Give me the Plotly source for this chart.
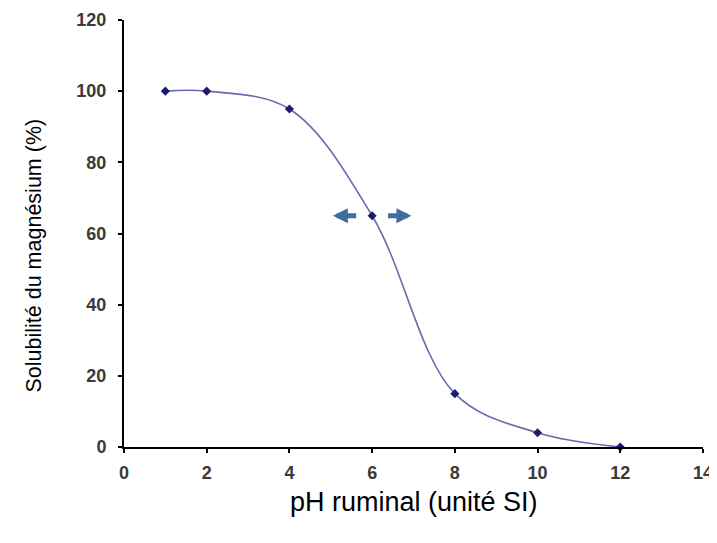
import plotly.graph_objects as go

ph = [1, 2, 4, 6, 8, 10, 12]
solubilite = [100, 100, 95, 65, 15, 4, 0]
x_ticks = [0, 2, 4, 6, 8, 10, 12, 14]
y_ticks = [0, 20, 40, 60, 80, 100, 120]
arrow_y = 65
left_arrow = (5.65, 5.05)   # tail, head
right_arrow = (6.35, 6.95)  # tail, head

fig = go.Figure()
fig.add_trace(go.Scatter(
    x=ph, y=solubilite, mode="lines+markers",
    line=dict(shape="spline", smoothing=1.0, color="#6b6bb0", width=1.6),
    marker=dict(symbol="diamond", size=7, color="#1c1c6e"),
    showlegend=False, cliponaxis=False,
))

arrow_color = "#3f6e9c"
for tail, head in (left_arrow, right_arrow):
    fig.add_annotation(
        x=head, y=arrow_y, ax=tail, ay=arrow_y,
        xref="x", yref="y", axref="x", ayref="y",
        text="", showarrow=True, arrowhead=2, arrowsize=0.6,
        arrowwidth=5, arrowcolor=arrow_color,
    )

title_font = "Liberation Sans, Arial, sans-serif"
fig.add_annotation(
    text="pH ruminal (unité SI)", xref="paper", yref="paper", x=0.5, y=0,
    xanchor="center", yanchor="middle", yshift=-55, showarrow=False,
    font=dict(family=title_font, size=27, color="black"),
)
fig.add_annotation(
    text="Solubilité du magnésium (%)", xref="paper", yref="paper", x=0, y=0.5,
    xanchor="center", yanchor="middle", xshift=-91, yshift=-22, textangle=-90,
    showarrow=False, font=dict(family=title_font, size=21.5, color="black"),
)

axis_font = dict(family="Liberation Sans, Arial, sans-serif", size=18, color="#3a3a3a")
fig.update_xaxes(
    range=[0, 14], tickvals=x_ticks, ticktext=[f"<b>{v}</b>" for v in x_ticks],
    showgrid=False, zeroline=False, showline=True, linecolor="black", linewidth=2,
    ticks="outside", ticklen=4, tickwidth=2, tickcolor="black", tickfont=axis_font,
    ticklabelstandoff=4, automargin=False,
)
fig.update_yaxes(
    range=[0, 120], tickvals=y_ticks, ticktext=[f"<b>{v}</b>" for v in y_ticks],
    showgrid=False, zeroline=False, showline=True, linecolor="black", linewidth=2,
    ticks="outside", ticklen=4, tickwidth=2, tickcolor="black", tickfont=axis_font,
    ticklabelstandoff=8, automargin=False,
)
# page body has an 8px default margin, so the figure is sized to fit the window
fig.update_layout(
    width=709, height=535,
    margin=dict(l=116, r=14, t=12, b=96),
    plot_bgcolor="white", paper_bgcolor="white",
)
fig.write_html("out.html")
